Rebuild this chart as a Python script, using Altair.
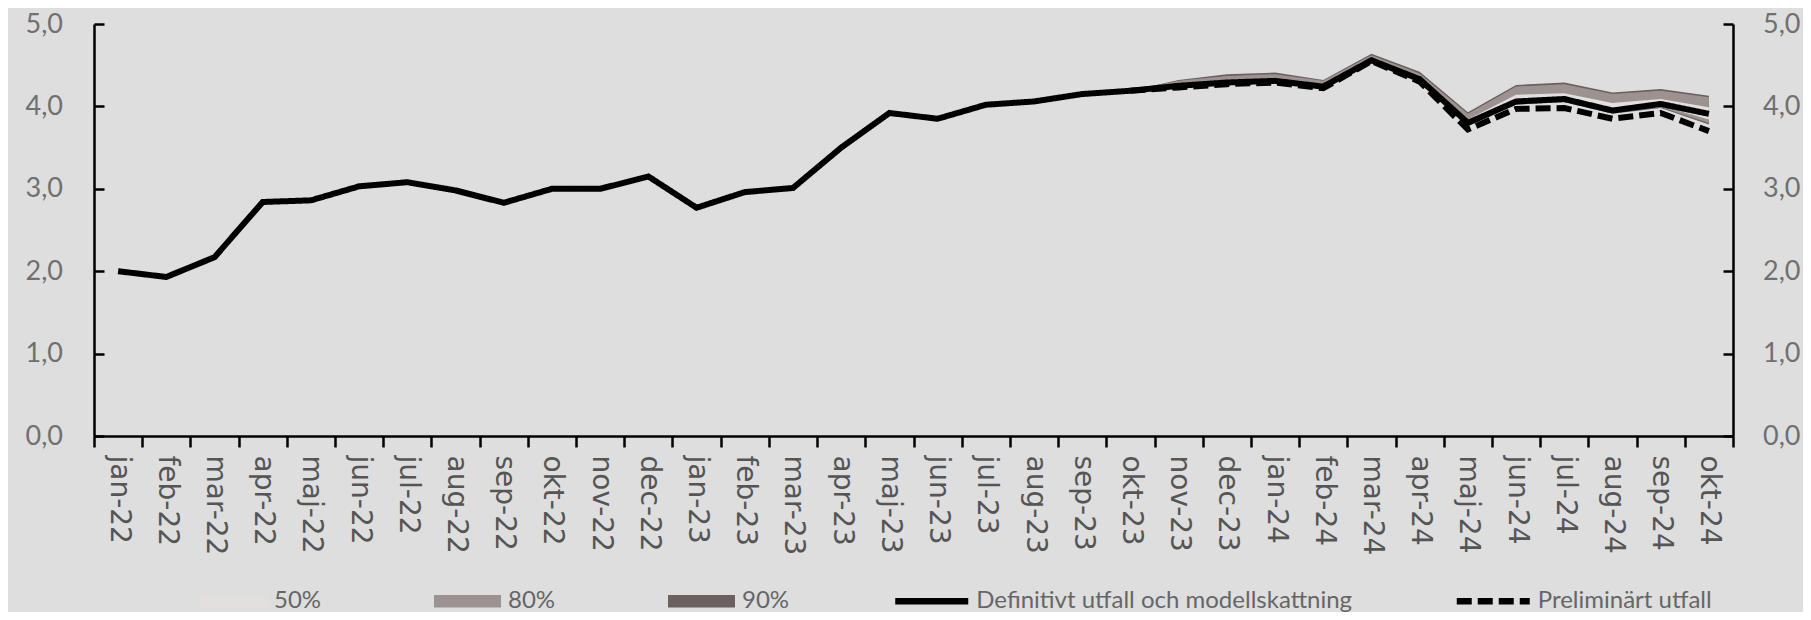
import altair as alt
import pandas as pd

# ---------------- data ----------------
months = ["jan-22", "feb-22", "mar-22", "apr-22", "maj-22", "jun-22", "jul-22", "aug-22",
          "sep-22", "okt-22", "nov-22", "dec-22", "jan-23", "feb-23", "mar-23", "apr-23",
          "maj-23", "jun-23", "jul-23", "aug-23", "sep-23", "okt-23", "nov-23", "dec-23",
          "jan-24", "feb-24", "mar-24", "apr-24", "maj-24", "jun-24", "jul-24", "aug-24",
          "sep-24", "okt-24"]

definitivt = [2.00, 1.93, 2.17, 2.84, 2.86, 3.03, 3.08, 2.98, 2.83, 3.00, 3.00, 3.15,
              2.77, 2.96, 3.01, 3.50, 3.92, 3.85, 4.02, 4.06, 4.15, 4.19, 4.25, 4.29,
              4.31, 4.24, 4.56, 4.33, 3.80, 4.06, 4.09, 3.95, 4.03, 3.91]

prelim_months = ["okt-23", "nov-23", "dec-23", "jan-24", "feb-24", "mar-24", "apr-24",
                 "maj-24", "jun-24", "jul-24", "aug-24", "sep-24", "okt-24"]
preliminart = [4.19, 4.23, 4.27, 4.29, 4.22, 4.55, 4.30, 3.72, 3.97, 3.98, 3.85, 3.92, 3.70]

fan_months = prelim_months
hi90 = [4.19, 4.32, 4.39, 4.41, 4.32, 4.64, 4.42, 3.93, 4.26, 4.29, 4.17, 4.21, 4.13]
hi80 = [4.19, 4.31, 4.37, 4.39, 4.31, 4.62, 4.40, 3.91, 4.24, 4.27, 4.15, 4.19, 4.11]
hi50 = [4.19, 4.27, 4.32, 4.34, 4.27, 4.58, 4.36, 3.84, 4.14, 4.16, 4.04, 4.09, 3.99]
lo50 = [4.19, 4.24, 4.28, 4.30, 4.23, 4.55, 4.32, 3.78, 4.04, 4.07, 3.93, 4.01, 3.84]
lo80 = [4.19, 4.23, 4.27, 4.29, 4.22, 4.54, 4.31, 3.77, 4.03, 4.06, 3.92, 3.99, 3.80]
lo90 = [4.19, 4.22, 4.26, 4.28, 4.21, 4.53, 4.30, 3.76, 4.02, 4.05, 3.91, 3.98, 3.78]

band_names = ["50%", "80%", "90%"]
band_colors = ["#e3dfde", "#9c9391", "#6a605e"]
series_names = ["Definitivt utfall och modellskattning", "Preliminärt utfall"]
y_ticks = [0, 1, 2, 3, 4, 5]

# ---------------- tables ----------------
def band_df(name, lo, hi):
    return pd.DataFrame({"month": fan_months, "lo": lo, "hi": hi, "band": name})

df90 = band_df("90%", lo90, hi90)
df80 = band_df("80%", lo80, hi80)
df50 = band_df("50%", lo50, hi50)
df_def = pd.DataFrame({"month": months, "value": definitivt, "series": series_names[0]})
df_pre = pd.DataFrame({"month": prelim_months, "value": preliminart, "series": series_names[1]})

# ---------------- layout ----------------
W, H = 1639, 412
ORIGIN_X, ORIGIN_Y = 94, 24
LEGEND_MID = 574  # legend row centre, relative to plot top

x_axis = alt.Axis(
    orient="bottom", title=None, labelAngle=90, labelFont="DejaVu Sans", labelFontSize=28,
    labelColor="#555555", labelPadding=8, labelOverlap=False, tickBand="extent",
    ticks=True, tickSize=11, tickWidth=2.5, tickColor="black",
    domain=True, domainColor="black", domainWidth=2.5, grid=False,
)
x_enc = alt.X("month:N", sort=months, bandPosition=0.5,
              scale=alt.Scale(type="band", domain=months, paddingInner=0, paddingOuter=0),
              axis=x_axis)

y_scale = alt.Scale(domain=[0, 5], nice=False, zero=True)
label_expr = "replace(format(datum.value, '.1f'), '.', ',')"

def label_axis(orient, pad):
    return alt.Axis(orient=orient, values=y_ticks, labelExpr=label_expr, ticks=False, tickSize=0,
                    domain=True, domainColor="black", domainWidth=2.5, grid=False,
                    labelFont="Lato", labelFontSize=27, labelColor="#707070",
                    labelPadding=pad, title=None)

def tick_axis(orient):
    return alt.Axis(orient=orient, offset=-W, values=y_ticks, labels=False, domain=False,
                    ticks=True, tickSize=10, tickWidth=2.5, tickColor="black", grid=False,
                    title=None)

fill_legend = alt.Legend(
    orient="none", legendX=200 - ORIGIN_X, legendY=LEGEND_MID - 30.5, direction="horizontal",
    columns=3, columnPadding=112, title=None, padding=0,
    symbolType="M-1,-0.19H1V0.19H-1Z", symbolSize=4489, symbolStrokeWidth=0, symbolOpacity=1,
    labelFont="Lato", labelFontSize=24, labelColor="#666666", labelOffset=7, labelLimit=500,
)
color_enc = alt.Color("band:N", scale=alt.Scale(domain=band_names, range=band_colors),
                      legend=fill_legend)

stroke_legend = alt.Legend(
    orient="none", legendX=895 - 3.25 - ORIGIN_X, legendY=LEGEND_MID - 36.75,
    direction="horizontal", columns=2, columnPadding=90.5, title=None, padding=0,
    symbolType="stroke", symbolSize=5329, symbolStrokeWidth=6.5, symbolStrokeColor="black",
    labelFont="Lato", labelFontSize=24, labelColor="#666666", labelOffset=4.5, labelLimit=600,
)
dash_enc = alt.StrokeDash("series:N",
                          scale=alt.Scale(domain=series_names, range=[[1, 0], [15, 6]]),
                          legend=stroke_legend)

area90 = alt.Chart(df90).mark_area(opacity=1).encode(
    x=x_enc, y=alt.Y("hi:Q", scale=y_scale, axis=label_axis("left", 31.5)), y2="lo:Q",
    color=color_enc)
area80 = alt.Chart(df80).mark_area(opacity=1).encode(
    x=x_enc, y=alt.Y("hi:Q", scale=y_scale, axis=label_axis("right", 29.5)), y2="lo:Q",
    color=color_enc)
area50 = alt.Chart(df50).mark_area(opacity=1).encode(
    x=x_enc, y=alt.Y("hi:Q", scale=y_scale, axis=tick_axis("right")), y2="lo:Q",
    color=color_enc)
line_pre = alt.Chart(df_pre).mark_line(color="black", strokeWidth=6).encode(
    x=x_enc, y=alt.Y("value:Q", scale=y_scale, axis=tick_axis("left")), strokeDash=dash_enc)
line_def = alt.Chart(df_def).mark_line(color="black", strokeWidth=6).encode(
    x=x_enc, y=alt.Y("value:Q", scale=y_scale, axis=None), strokeDash=dash_enc)

chart = alt.layer(area90, area80, area50, line_pre, line_def).resolve_scale(
    y="independent"
).properties(
    width=W, height=H,
    autosize=alt.AutoSizeParams(type="none"),
    padding={"left": ORIGIN_X - 8, "top": ORIGIN_Y - 8, "right": 70, "bottom": 176},
    background="#dedede",
).configure_view(stroke=None)

chart.save("out.html", embed_options={"renderer": "svg", "actions": False})
